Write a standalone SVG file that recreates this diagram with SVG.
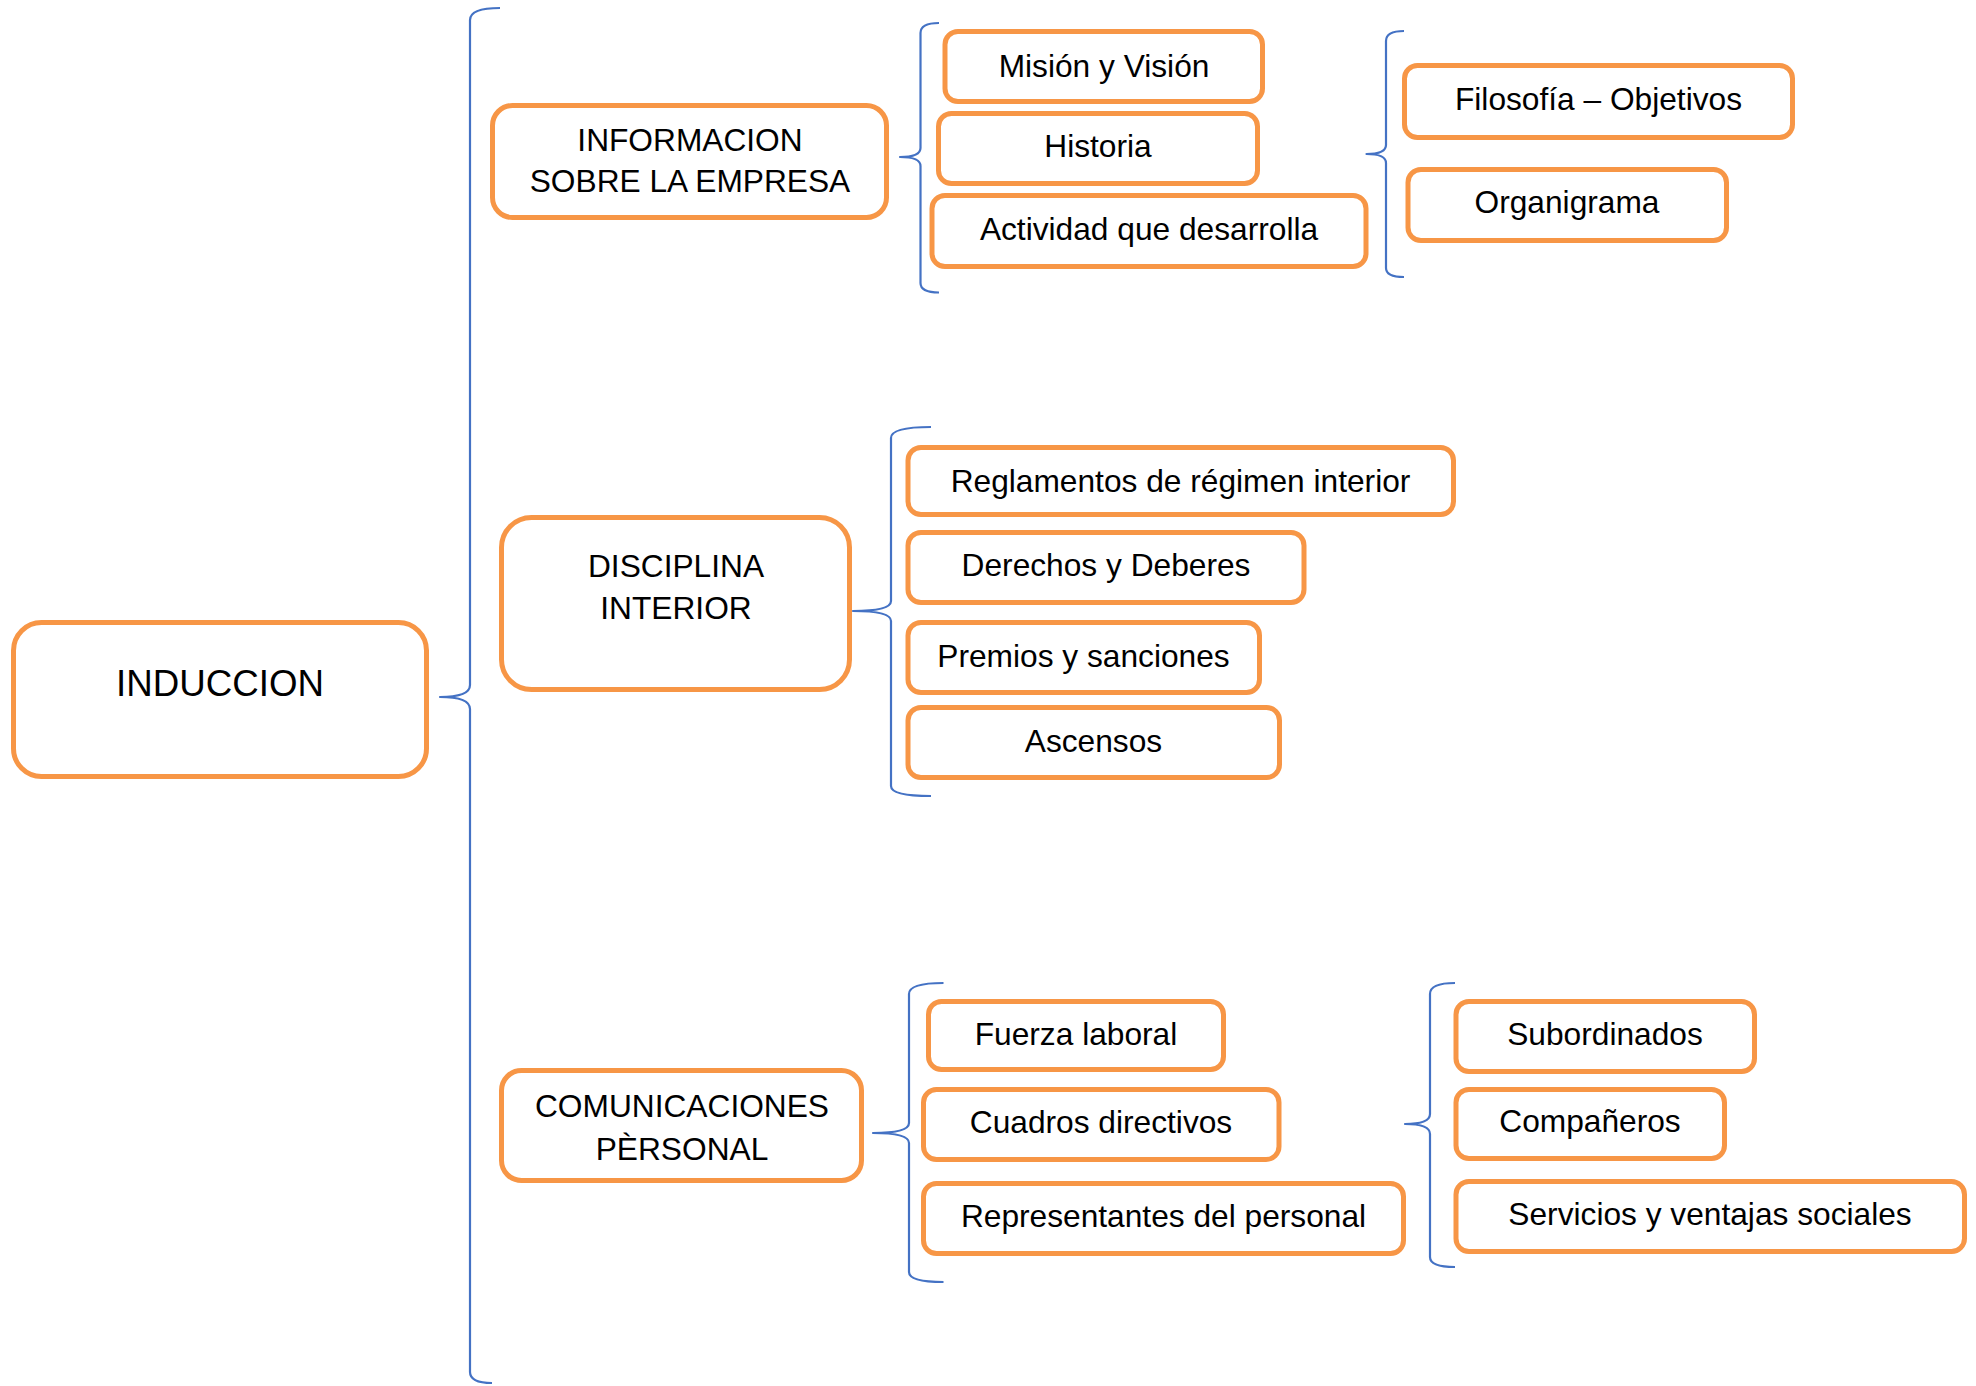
<svg xmlns="http://www.w3.org/2000/svg" width="1976" height="1386" viewBox="0 0 1976 1386">
<style>
.box{fill:#fff;stroke:#F79646;stroke-width:5}
.br{fill:none;stroke:#4472C4;stroke-width:2.2;stroke-linejoin:round}
text{font-family:"Liberation Sans",Arial,sans-serif;font-size:31.7px;fill:#000;text-anchor:middle}
.big{font-size:36.7px}
</style>
<rect width="1976" height="1386" fill="#fff"/>
<g id="connectors">
<path class="br" d="M500,8 Q470,8 470,20 L470,685 Q470,697 440,697 Q470,697 470,709 L470,1372 Q470,1383 492,1383"/>
<path class="br" d="M939,23 Q920.5,23 920.5,33 L920.5,148 Q920.5,157 900,157 Q920.5,157 920.5,166 L920.5,283 Q920.5,292.5 939,292.5"/>
<path class="br" d="M1404,31 Q1386,31 1386,41 L1386,145 Q1386,154 1366.5,154 Q1386,154 1386,163 L1386,268 Q1386,277 1404,277"/>
<path class="br" d="M931,427 Q891,427 891,438 L891,601 Q891,611 853,611 Q891,611 891,621 L891,786 Q891,796 931,796"/>
<path class="br" d="M943.5,983 Q909,983 909,994 L909,1123 Q909,1133 873,1133 Q909,1133 909,1143 L909,1272 Q909,1282 943.5,1282"/>
<path class="br" d="M1455,983 Q1430,983 1430,994 L1430,1114 Q1430,1124 1405,1124 Q1430,1124 1430,1134 L1430,1257 Q1430,1267 1455,1267"/>
</g>
<g id="induccion"><rect class="box" x="13.5" y="622.5" width="413" height="154" rx="28"/><text class="big" x="220" y="696">INDUCCION</text></g>
<g id="informacion"><rect class="box" x="492.5" y="105.5" width="394" height="112" rx="20"/><text x="690" y="151">INFORMACION</text><text x="690" y="192">SOBRE LA EMPRESA</text></g>
<g id="disciplina"><rect class="box" x="501.5" y="517.5" width="348" height="172" rx="30"/><text x="676" y="577">DISCIPLINA</text><text x="676" y="619">INTERIOR</text></g>
<g id="comunicaciones"><rect class="box" x="501.5" y="1070.5" width="360" height="110" rx="20"/><text x="682" y="1117">COMUNICACIONES</text><text x="682" y="1160">PÈRSONAL</text></g>
<g id="mision"><rect class="box" x="945" y="31.5" width="317.5" height="70" rx="13"/><text x="1104" y="77">Misión y Visión</text></g>
<g id="historia"><rect class="box" x="938.5" y="113.5" width="319" height="70" rx="13"/><text x="1098" y="157">Historia</text></g>
<g id="actividad"><rect class="box" x="932" y="195.5" width="434" height="71" rx="13"/><text x="1149" y="240">Actividad que desarrolla</text></g>
<g id="filosofia"><rect class="box" x="1404.5" y="65.5" width="388" height="72" rx="13"/><text x="1598.5" y="110">Filosofía – Objetivos</text></g>
<g id="organigrama"><rect class="box" x="1408" y="169.5" width="318.5" height="71" rx="13"/><text x="1567" y="213">Organigrama</text></g>
<g id="reglamentos"><rect class="box" x="908" y="447.5" width="545.5" height="67" rx="13"/><text x="1180.5" y="492">Reglamentos de régimen interior</text></g>
<g id="derechos"><rect class="box" x="908" y="532.5" width="396" height="70" rx="13"/><text x="1106" y="576">Derechos y Deberes</text></g>
<g id="premios"><rect class="box" x="908" y="622.5" width="351.5" height="70" rx="13"/><text x="1083.5" y="667">Premios y sanciones</text></g>
<g id="ascensos"><rect class="box" x="908" y="707.5" width="371.5" height="70" rx="13"/><text x="1093.5" y="752">Ascensos</text></g>
<g id="fuerza"><rect class="box" x="928.5" y="1001.5" width="295" height="68" rx="13"/><text x="1076" y="1045">Fuerza laboral</text></g>
<g id="cuadros"><rect class="box" x="923.5" y="1089.5" width="355.5" height="70" rx="13"/><text x="1101" y="1133">Cuadros directivos</text></g>
<g id="representantes"><rect class="box" x="923.5" y="1183.5" width="480" height="70" rx="13"/><text x="1163.5" y="1227">Representantes del personal</text></g>
<g id="subordinados"><rect class="box" x="1456" y="1001.5" width="298.5" height="70" rx="13"/><text x="1605" y="1045">Subordinados</text></g>
<g id="companeros"><rect class="box" x="1456" y="1089.5" width="268.5" height="69" rx="13"/><text x="1590" y="1132">Compañeros</text></g>
<g id="servicios"><rect class="box" x="1456" y="1181.5" width="508.5" height="70" rx="13"/><text x="1710" y="1225">Servicios y ventajas sociales</text></g>
</svg>
